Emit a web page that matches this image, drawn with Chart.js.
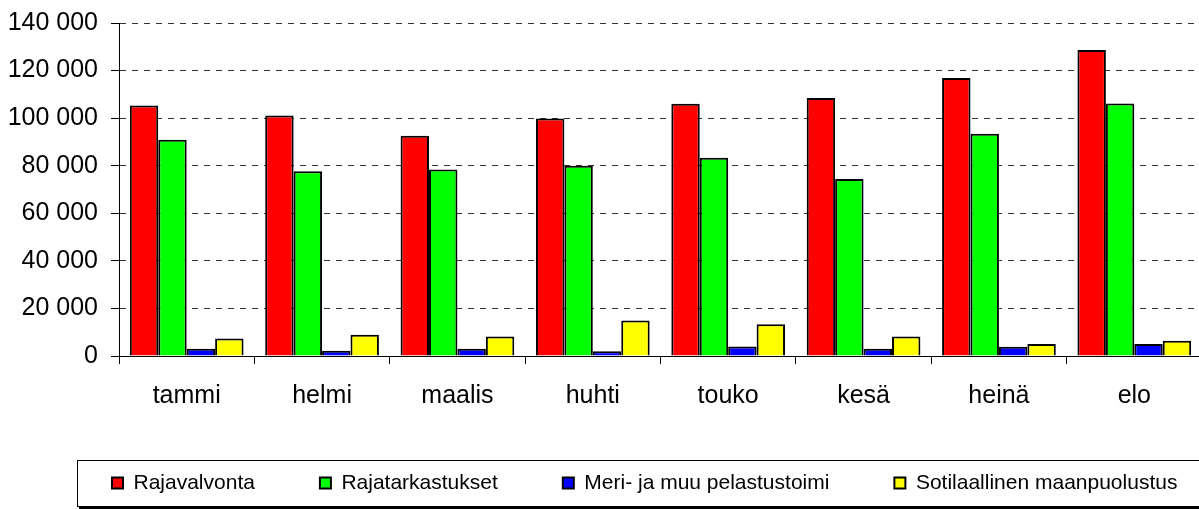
<!DOCTYPE html>
<html>
<head>
<meta charset="utf-8">
<script src="https://cdn.jsdelivr.net/npm/chart.js@4/dist/chart.umd.min.js"></script>
<style>
  html, body { margin: 0; padding: 0; background: #fff; overflow: hidden; }
  #wrap { width: 1204px; height: 509px; }
</style>
</head>
<body>
<div id="wrap"><canvas id="grafica"></canvas></div>
<script>
const kuukaudet = ["tammi", "helmi", "maalis", "huhti", "touko", "kesä", "heinä", "elo"];
const rajavalvonta = [105300, 101100, 92600, 99800, 106000, 108500, 116900, 128600];
const rajatarkastukset = [90900, 77700, 78400, 80000, 83400, 74400, 93400, 106200];
const pelastustoimi = [3000, 2200, 3000, 2000, 4000, 3000, 3900, 5000];
const maanpuolustus = [7400, 8900, 8200, 14900, 13300, 8200, 5000, 6400];
const yTicks = [0, 20000, 40000, 60000, 80000, 100000, 120000, 140000];

const fontti = "'Liberation Sans', Arial, sans-serif";

// legenda siirretään oikealle ja sen ympärille piirretään kehys (Excel-tyyli)
const legendaKehys = {
  id: "legendaKehys",
  afterLayout(chart) {
    chart.legend.left += 47;
    chart.legend.right += 47;
  },
  afterDraw(chart) {
    const boxes = chart.legend.legendHitBoxes;
    if (!boxes || !boxes.length) return;
    const ctx = chart.ctx;
    const left = Math.round(boxes[0].left - 35);
    const top = Math.round(boxes[0].top - 12.5);
    const h = Math.round(boxes[0].height + 25);
    const right = chart.width + 20;
    ctx.save();
    ctx.strokeStyle = "#000";
    ctx.lineWidth = 1;
    ctx.strokeRect(left + 0.5, top + 0.5, right - left, h);
    ctx.fillStyle = "#000";
    ctx.fillRect(left + 2, top + h + 1, right - left, 2);
    ctx.restore();
  }
};

const ctx = document.getElementById("grafica").getContext("2d");
new Chart(ctx, {
  type: "bar",
  data: {
    labels: kuukaudet,
    datasets: [
      { label: "Rajavalvonta", data: rajavalvonta, backgroundColor: "#ff0000" },
      { label: "Rajatarkastukset", data: rajatarkastukset, backgroundColor: "#00ff00" },
      { label: "Meri- ja muu pelastustoimi", data: pelastustoimi, backgroundColor: "#0000ff" },
      { label: "Sotilaallinen maanpuolustus", data: maanpuolustus, backgroundColor: "#ffff00" }
    ]
  },
  options: {
    responsive: true,
    maintainAspectRatio: false,
    animation: false,
    devicePixelRatio: 1,
    layout: { padding: { left: 0, right: 2, top: 23, bottom: 5.5 } },
    datasets: {
      bar: {
        borderColor: "#000",
        borderWidth: 2,
        categoryPercentage: 0.84,
        barPercentage: 1
      }
    },
    plugins: {
      tooltip: { enabled: false },
      legend: {
        position: "bottom",
        align: "start",
        labels: {
          boxWidth: 11,
          boxHeight: 11,
          padding: 65,
          color: "#000",
          font: { family: fontti, size: 21 }
        }
      }
    },
    scales: {
      x: {
        afterFit(scale) {
          scale.height = 51.5;
          scale.paddingLeft = 0;
          scale.paddingRight = 0;
        },
        grid: {
          offset: true,
          drawOnChartArea: false,
          drawTicks: true,
          tickLength: 8,
          tickColor: "#000"
        },
        border: { display: true, color: "#000", width: 1 },
        ticks: {
          color: "#000",
          padding: 17,
          font: { family: fontti, size: 25 }
        }
      },
      y: {
        min: yTicks[0],
        max: yTicks[yTicks.length - 1],
        afterFit(scale) {
          scale.width = 119;
          scale.paddingTop = 0;
          scale.paddingBottom = 0;
        },
        afterBuildTicks(scale) { scale.ticks = yTicks.map(v => ({ value: v })); },
        grid: {
          color: "#333",
          lineWidth: 1,
          tickLength: 8,
          tickColor: "#000"
        },
        border: { display: true, color: "#000", width: 1, dash: [6, 6] },
        ticks: {
          color: "#000",
          padding: 13,
          font: { family: fontti, size: 25 },
          callback: v => v.toString().replace(/\B(?=(\d{3})+(?!\d))/g, " ")
        }
      }
    }
  },
  plugins: [legendaKehys]
});
</script>
</body>
</html>
